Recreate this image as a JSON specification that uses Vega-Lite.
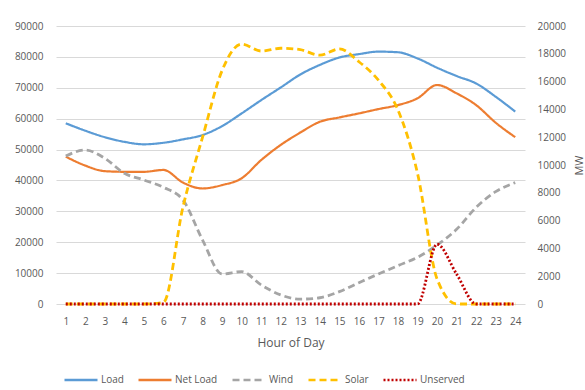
{
  "$schema": "https://vega.github.io/schema/vega-lite/v6.json",
  "width": 469,
  "height": 278,
  "autosize": {"type": "none"},
  "padding": {"left": 56, "top": 26, "right": 60, "bottom": 86},
  "background": "white",
  "config": {
    "view": {"stroke": null},
    "font": "Open Sans",
    "axis": {"labelColor": "#595959", "titleColor": "#595959", "labelFont": "Open Sans", "titleFont": "Open Sans", "labelFontSize": 10, "titleFontWeight": "normal"},
    "legend": {"labelColor": "#595959", "labelFont": "Open Sans", "labelFontSize": 10}
  },
  "datasets": {
    "power": [
      {"hour":1,"series":"Load","value":58500},{"hour":2,"series":"Load","value":56100},{"hour":3,"series":"Load","value":54000},{"hour":4,"series":"Load","value":52500},{"hour":5,"series":"Load","value":51700},{"hour":6,"series":"Load","value":52200},{"hour":7,"series":"Load","value":53300},{"hour":8,"series":"Load","value":54700},{"hour":9,"series":"Load","value":57600},{"hour":10,"series":"Load","value":61700},{"hour":11,"series":"Load","value":66000},{"hour":12,"series":"Load","value":70100},{"hour":13,"series":"Load","value":74300},{"hour":14,"series":"Load","value":77400},{"hour":15,"series":"Load","value":79800},{"hour":16,"series":"Load","value":80900},{"hour":17,"series":"Load","value":81700},{"hour":18,"series":"Load","value":81500},{"hour":19,"series":"Load","value":79500},{"hour":20,"series":"Load","value":76500},{"hour":21,"series":"Load","value":73800},{"hour":22,"series":"Load","value":71400},{"hour":23,"series":"Load","value":67100},{"hour":24,"series":"Load","value":62300},
      {"hour":1,"series":"Net Load","value":47700},{"hour":2,"series":"Net Load","value":44800},{"hour":3,"series":"Net Load","value":43000},{"hour":4,"series":"Net Load","value":42800},{"hour":5,"series":"Net Load","value":42800},{"hour":6,"series":"Net Load","value":43400},{"hour":7,"series":"Net Load","value":39300},{"hour":8,"series":"Net Load","value":37400},{"hour":9,"series":"Net Load","value":38500},{"hour":10,"series":"Net Load","value":40700},{"hour":11,"series":"Net Load","value":46600},{"hour":12,"series":"Net Load","value":51500},{"hour":13,"series":"Net Load","value":55500},{"hour":14,"series":"Net Load","value":59000},{"hour":15,"series":"Net Load","value":60400},{"hour":16,"series":"Net Load","value":61700},{"hour":17,"series":"Net Load","value":63100},{"hour":18,"series":"Net Load","value":64400},{"hour":19,"series":"Net Load","value":66600},{"hour":20,"series":"Net Load","value":70900},{"hour":21,"series":"Net Load","value":68200},{"hour":22,"series":"Net Load","value":64400},{"hour":23,"series":"Net Load","value":58700},{"hour":24,"series":"Net Load","value":54000},
      {"hour":1,"series":"Wind","value":10650},{"hour":2,"series":"Wind","value":11080},{"hour":3,"series":"Wind","value":10480},{"hour":4,"series":"Wind","value":9400},{"hour":5,"series":"Wind","value":8920},{"hour":6,"series":"Wind","value":8390},{"hour":7,"series":"Wind","value":7480},{"hour":8,"series":"Wind","value":4600},{"hour":9,"series":"Wind","value":2160},{"hour":10,"series":"Wind","value":2330},{"hour":11,"series":"Wind","value":1370},{"hour":12,"series":"Wind","value":650},{"hour":13,"series":"Wind","value":350},{"hour":14,"series":"Wind","value":450},{"hour":15,"series":"Wind","value":890},{"hour":16,"series":"Wind","value":1530},{"hour":17,"series":"Wind","value":2160},{"hour":18,"series":"Wind","value":2760},{"hour":19,"series":"Wind","value":3360},{"hour":20,"series":"Wind","value":4240},{"hour":21,"series":"Wind","value":5370},{"hour":22,"series":"Wind","value":6950},{"hour":23,"series":"Wind","value":8080},{"hour":24,"series":"Wind","value":8730},
      {"hour":1,"series":"Solar","value":0},{"hour":2,"series":"Solar","value":0},{"hour":3,"series":"Solar","value":0},{"hour":4,"series":"Solar","value":0},{"hour":5,"series":"Solar","value":0},{"hour":6,"series":"Solar","value":120},{"hour":7,"series":"Solar","value":7000},{"hour":8,"series":"Solar","value":12000},{"hour":9,"series":"Solar","value":16800},{"hour":10,"series":"Solar","value":18700},{"hour":11,"series":"Solar","value":18200},{"hour":12,"series":"Solar","value":18400},{"hour":13,"series":"Solar","value":18300},{"hour":14,"series":"Solar","value":17900},{"hour":15,"series":"Solar","value":18350},{"hour":16,"series":"Solar","value":17430},{"hour":17,"series":"Solar","value":16100},{"hour":18,"series":"Solar","value":13950},{"hour":19,"series":"Solar","value":9400},{"hour":20,"series":"Solar","value":1800},{"hour":21,"series":"Solar","value":0},{"hour":22,"series":"Solar","value":0},{"hour":23,"series":"Solar","value":0},{"hour":24,"series":"Solar","value":0},
      {"hour":1,"series":"Unserved","value":0},{"hour":2,"series":"Unserved","value":0},{"hour":3,"series":"Unserved","value":0},{"hour":4,"series":"Unserved","value":0},{"hour":5,"series":"Unserved","value":0},{"hour":6,"series":"Unserved","value":0},{"hour":7,"series":"Unserved","value":0},{"hour":8,"series":"Unserved","value":0},{"hour":9,"series":"Unserved","value":0},{"hour":10,"series":"Unserved","value":0},{"hour":11,"series":"Unserved","value":0},{"hour":12,"series":"Unserved","value":0},{"hour":13,"series":"Unserved","value":0},{"hour":14,"series":"Unserved","value":0},{"hour":15,"series":"Unserved","value":0},{"hour":16,"series":"Unserved","value":0},{"hour":17,"series":"Unserved","value":0},{"hour":18,"series":"Unserved","value":0},{"hour":19,"series":"Unserved","value":0},{"hour":20,"series":"Unserved","value":4300},{"hour":21,"series":"Unserved","value":2150},{"hour":22,"series":"Unserved","value":0},{"hour":23,"series":"Unserved","value":0},{"hour":24,"series":"Unserved","value":0}
    ]
  },
  "data": {"name": "power"},
  "encoding": {
    "x": {
      "field": "hour", "type": "quantitative",
      "scale": {"domain": [0.5, 24.5], "nice": false, "zero": false},
      "axis": {"title": "Hour of Day", "titleFontSize": 12, "titlePadding": 11, "values": [1,2,3,4,5,6,7,8,9,10,11,12,13,14,15,16,17,18,19,20,21,22,23,24], "grid": false, "ticks": false, "domain": false, "labelPadding": 12, "labelFlush": false}
    },
    "color": {
      "field": "series", "type": "nominal",
      "scale": {"domain": ["Load","Net Load","Wind","Solar","Unserved"], "range": ["#5B9BD5","#ED7D31","#A5A5A5","#FFC000","#C00000"]},
      "legend": {"title": null, "orient": "none", "legendX": 7, "legendY": 336, "direction": "horizontal", "symbolType": "stroke", "symbolSize": 1089, "symbolStrokeWidth": 2.5, "columnPadding": 9, "labelOffset": 2}
    },
    "strokeDash": {
      "field": "series", "type": "nominal",
      "scale": {"domain": ["Load","Net Load","Wind","Solar","Unserved"], "range": [[1,0],[1,0],[7,4],[7,4],[2,2]]},
      "legend": {"title": null, "orient": "none", "legendX": 7, "legendY": 336, "direction": "horizontal", "symbolType": "stroke", "symbolSize": 1089, "symbolStrokeWidth": 2.5, "columnPadding": 9, "labelOffset": 2}
    }
  },
  "layer": [
    {
      "transform": [{"filter": "datum.series === 'Load' || datum.series === 'Net Load'"}],
      "mark": {"type": "line", "strokeWidth": 2.2, "interpolate": "monotone"},
      "encoding": {
        "y": {
          "field": "value", "type": "quantitative",
          "scale": {"domain": [0, 90000], "nice": false},
          "axis": {"title": null, "values": [0,10000,20000,30000,40000,50000,60000,70000,80000,90000], "format": "d", "grid": true, "gridColor": "#D9D9D9", "ticks": false, "domain": false, "labelPadding": 13}
        }
      }
    },
    {
      "transform": [{"filter": "datum.series !== 'Load' && datum.series !== 'Net Load'"}],
      "mark": {"type": "line", "strokeWidth": 2.8, "interpolate": "monotone"},
      "encoding": {
        "y": {
          "field": "value", "type": "quantitative",
          "scale": {"domain": [0, 20000], "nice": false},
          "axis": {"orient": "right", "title": "MW", "titleAngle": 270, "titleFontSize": 11, "titlePadding": 19, "values": [0,2000,4000,6000,8000,10000,12000,14000,16000,18000,20000], "format": "d", "grid": false, "ticks": false, "domain": false, "labelPadding": 12}
        }
      }
    }
  ],
  "resolve": {"scale": {"y": "independent"}}
}
